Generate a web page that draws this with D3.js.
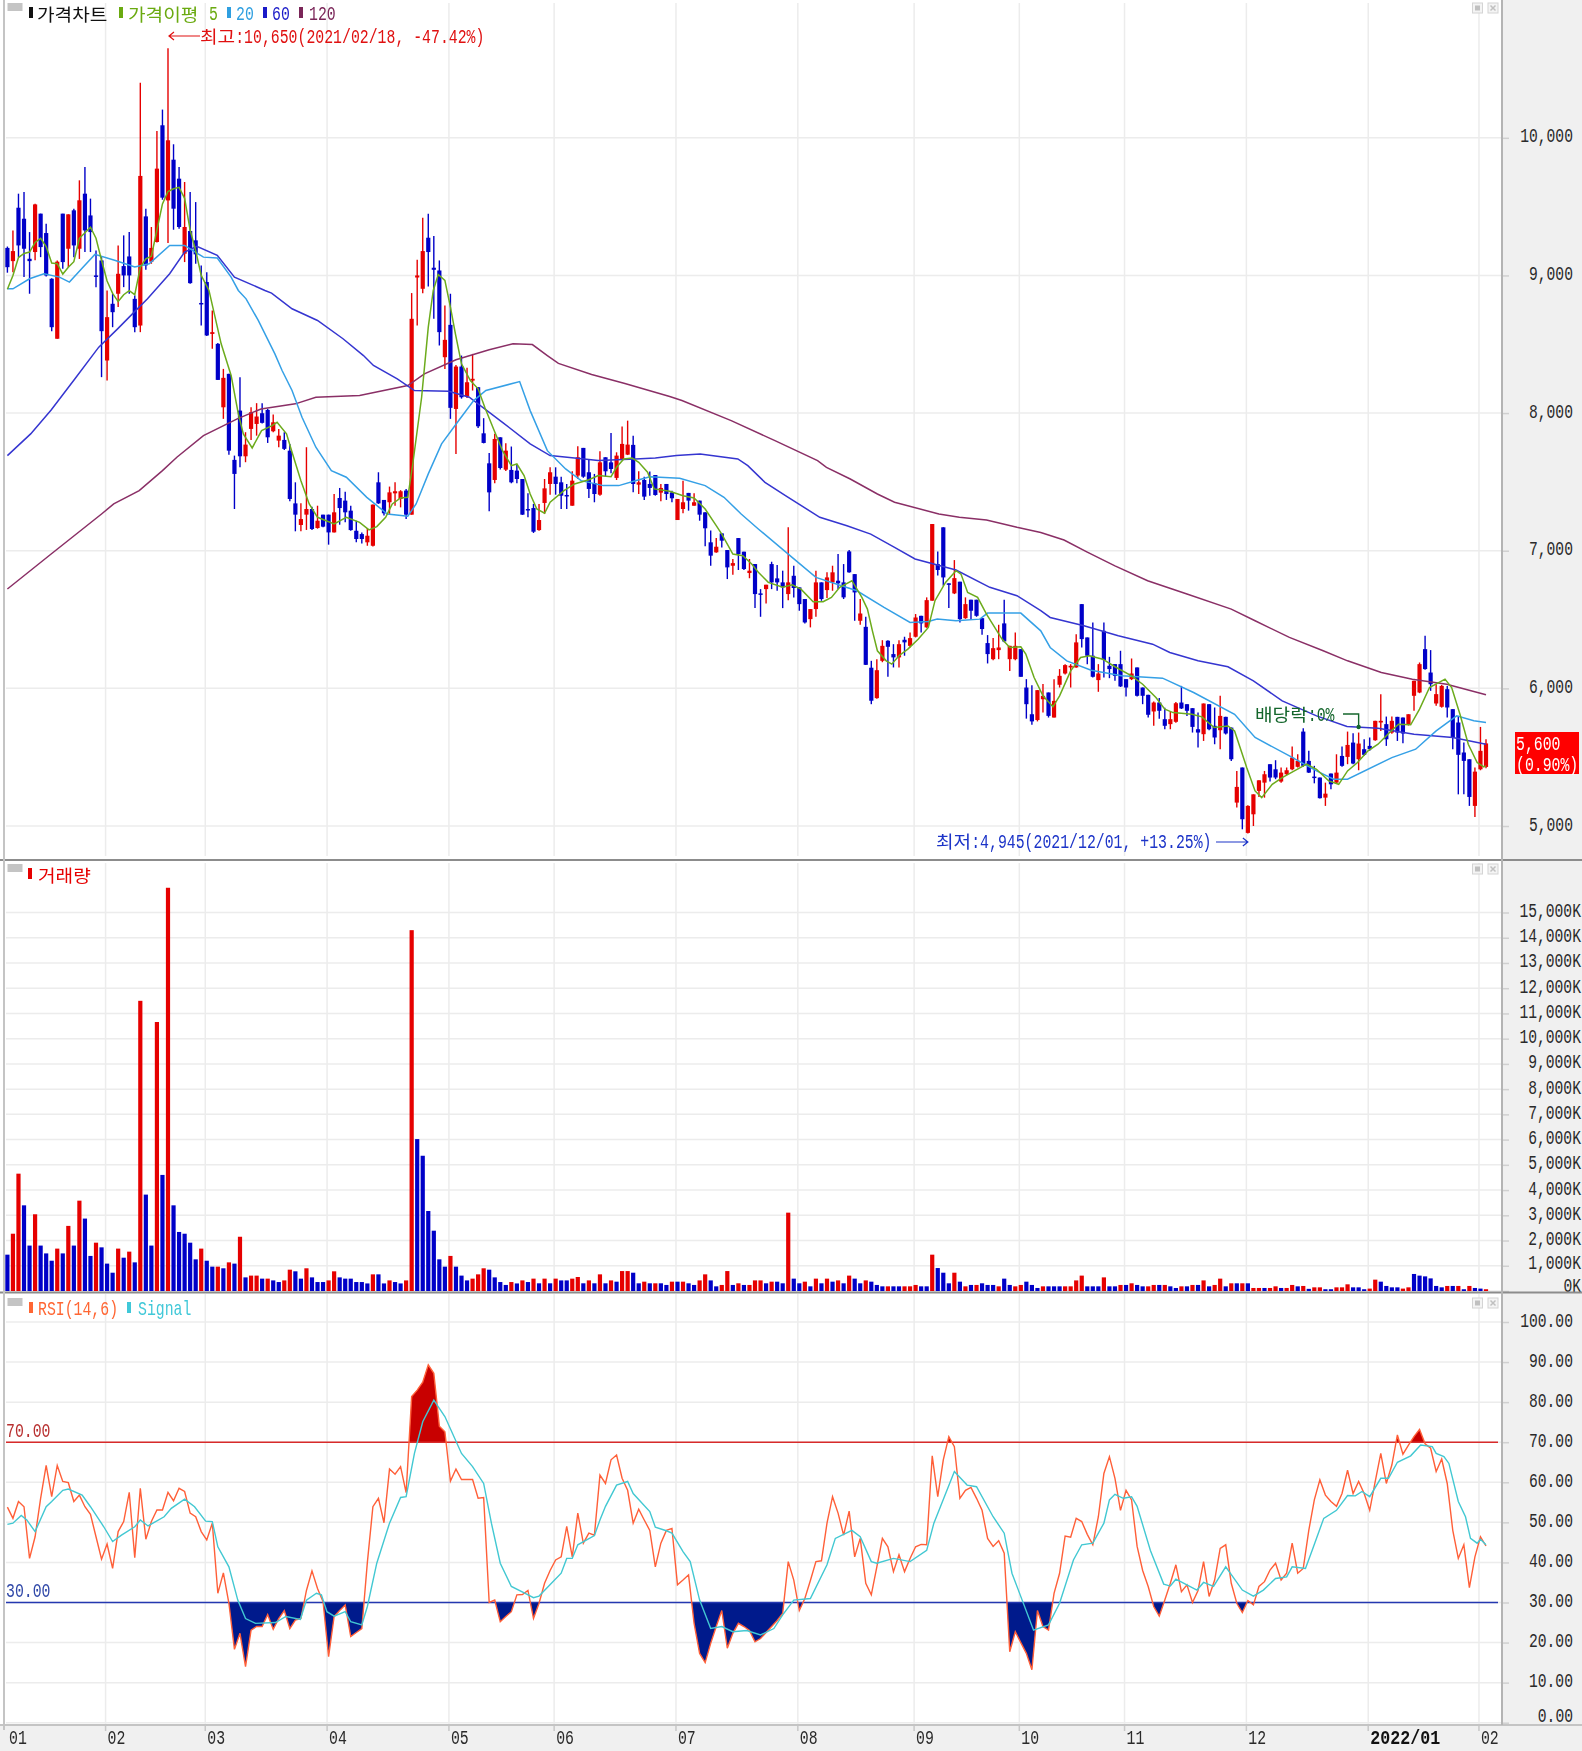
<!DOCTYPE html>
<html>
<head>
<meta charset="utf-8">
<script src="https://cdn.jsdelivr.net/npm/d3@7"></script>
<style>
  html, body { margin: 0; padding: 0; background: #fff; }
  svg { display: block; filter: blur(0.35px); }
  text { white-space: pre; }
</style>
</head>
<body>
<svg id="chart" width="1582" height="1751"></svg>
<script>
// colors
const RED = '#e60000';
const BLUE = '#0000c8';
const GRID = '#ececec';
const PANEL = '#f0f0f0';
const TEXT = '#2a2a2a';

// month labels and the bar each month starts on
const monthLabels = ['01', '02', '03', '04', '05', '06', '07', '08', '09', '10', '11', '12', '2022/01', '02'];
const monthBars = [0, 18, 36, 58, 80, 99, 121, 143, 164, 183, 202, 224, 246, 266];

// tick values
const priceTicks = [5000, 6000, 7000, 8000, 9000, 10000];
const volumeTicks = [0, 1000, 2000, 3000, 4000, 5000, 6000, 7000, 8000, 9000, 10000, 11000, 12000, 13000, 14000, 15000];
const rsiTicks = [0, 10, 20, 30, 40, 50, 60, 70, 80, 90, 100];

// daily candles
const opens = [
  9200,9104,9492,9412,9121,9170,9449,9308,8976,8540,
  9449,9194,9473,9194,9594,9436,9000,9109,8382,8794,
  8867,9068,9138,8830,8636,9429,9100,9243,10091,9545,
  9841,9703,9158,9323,9255,8800,8952,8575,8503,8042,
  8285,7660,8018,7686,7885,7921,7999,8023,7868,7800,
  7805,7727,7344,7187,7262,7303,7165,7262,7262,7133,
  7383,7364,7291,7145,7121,7061,7036,7497,7369,7352,
  7417,7376,7437,7262,8985,8903,9274,9056,9036,8406,
  8641,8030,8338,8120,8236,8188,7853,7635,7514,7824,
  7589,7587,7582,7521,7303,7310,7150,7347,7485,7538,
  7497,7405,7327,7546,7747,7570,7492,7407,7679,7642,
  7529,7667,7698,7769,7480,7514,7485,7550,7422,7485,
  7424,7223,7303,7420,7327,7364,7279,7061,6988,7126,
  7005,6891,7092,6993,6838,6903,6690,6721,6903,6799,
  6770,6685,6818,6734,6649,6503,6576,6770,6714,6770,
  6782,6770,6995,6830,6491,6447,6150,5929,6200,6346,
  6249,6225,6353,6309,6375,6527,6443,6637,6903,7170,
  6763,6690,6775,6510,6644,6644,6510,6329,6212,6278,
  6472,6212,6212,6285,6006,5812,5770,5921,5970,5788,
  6026,6108,6152,6152,6612,6370,6237,6060,6418,6164,
  6176,6176,6067,6067,6152,6006,5953,5832,5897,5776,
  5740,5757,5897,5885,5856,5703,5667,5885,5728,5696,
  5793,5715,5170,5425,4950,5085,5255,5315,5449,5412,
  5323,5376,5412,5430,5686,5473,5359,5352,5206,5381,
  5315,5509,5502,5606,5485,5558,5582,5623,5752,5740,
  5679,5793,5788,5735,5946,5970,6285,6115,5890,5866,
  5994,5849,5752,5534,5485,5146,5412,5429
];
const highs = [
  9210,9327,9594,9606,9315,9520,9449,9376,8980,9109,
  9449,9444,9485,9691,9788,9558,9182,9133,8890,8867,
  9218,9291,9315,8855,10400,9485,9352,10050,10205,10650,
  9953,9788,9679,9606,9533,9073,9024,8746,8510,8321,
  8285,7691,8261,7861,8042,8072,8072,8030,7989,7885,
  7861,7776,7497,7344,7752,7320,7327,7262,7262,7412,
  7456,7429,7327,7218,7133,7165,7335,7570,7369,7466,
  7497,7440,7449,8872,9114,9419,9449,9286,9109,8782,
  8867,8350,8418,8329,8430,8188,7963,7710,7849,7824,
  7781,7757,7630,7521,7417,7340,7340,7521,7606,7606,
  7538,7485,7577,7759,7747,7660,7558,7722,7679,7856,
  7715,7902,7945,7836,7577,7538,7575,7550,7485,7485,
  7436,7376,7509,7420,7417,7364,7279,7146,7092,7126,
  7005,6940,7092,6993,6940,6903,6721,6753,6920,6896,
  6855,7170,6891,6734,6649,6576,6855,6770,6843,6891,
  6976,6903,7005,6830,6649,6520,6200,6212,6350,6350,
  6321,6350,6375,6406,6540,6527,6661,7194,6995,7170,
  6763,6932,6775,6661,6644,6644,6510,6387,6365,6462,
  6644,6309,6406,6285,6067,6023,5987,6031,5970,6067,
  6140,6175,6176,6394,6612,6370,6479,6176,6479,6229,
  6176,6273,6067,6217,6152,6006,5953,5905,5930,5860,
  5830,5900,6018,5885,5856,5825,5890,5885,5861,5946,
  5793,5715,5400,5425,5150,5230,5332,5400,5449,5478,
  5425,5425,5577,5521,5710,5546,5437,5352,5315,5381,
  5521,5577,5686,5674,5679,5630,5643,5764,5958,5795,
  5795,5793,5788,5812,6055,6188,6382,6278,6030,6025,
  6018,5849,5800,5606,5485,5425,5720,5630
];
const lows = [
  9020,9024,9133,8988,8867,9110,9133,8993,8595,8540,
  9049,9060,9133,9120,9170,9170,8915,8261,8236,8624,
  8770,8915,8867,8588,8588,9041,9085,9240,9550,9235,
  9332,9340,9097,8940,9085,8636,8560,8467,8241,7958,
  7698,7303,7606,7643,7805,7836,7925,7783,7860,7752,
  7732,7359,7141,7141,7151,7150,7160,7170,7044,7133,
  7189,7206,7145,7061,7053,7036,7030,7340,7255,7267,
  7327,7315,7230,7262,8636,8870,8920,8685,8491,8321,
  7958,7703,8105,8110,8164,7892,7780,7286,7490,7590,
  7580,7490,7490,7260,7243,7129,7145,7267,7407,7407,
  7303,7303,7327,7521,7530,7383,7352,7400,7538,7563,
  7514,7660,7695,7424,7412,7369,7400,7400,7359,7369,
  7352,7223,7272,7291,7327,7218,7032,6891,6985,7024,
  6794,6826,6860,6860,6800,6583,6520,6617,6721,6709,
  6583,6641,6661,6564,6472,6443,6520,6636,6656,6709,
  6721,6649,6840,6491,6462,6170,5885,5925,6190,6084,
  6152,6152,6237,6297,6370,6406,6440,6637,6820,6746,
  6583,6685,6479,6505,6496,6520,6389,6181,6205,6212,
  6335,6127,6205,6084,5780,5735,5760,5825,5788,5788,
  6006,6100,6006,6150,6297,6176,6079,5975,6079,6074,
  6055,6010,5941,6060,5940,5885,5788,5728,5780,5703,
  5703,5750,5850,5800,5679,5570,5618,5695,5594,5558,
  5665,5473,5134,4976,4945,5000,5211,5206,5323,5340,
  5315,5370,5405,5425,5430,5385,5310,5200,5146,5267,
  5310,5430,5449,5449,5405,5510,5546,5620,5690,5582,
  5670,5618,5602,5730,5837,5965,6135,5982,5873,5860,
  5788,5558,5230,5230,5146,5066,5405,5420
];
const closes = [
  9060,9177,9218,9194,9104,9516,9206,9000,8624,9100,
  9097,9444,9218,9546,9327,9315,8990,8595,8697,8733,
  9012,9000,9000,8624,9723,9073,9200,9776,9565,9982,
  9485,9352,9352,8944,9153,8790,8564,8588,8241,8256,
  7727,7558,7686,7771,8006,7975,7929,7824,7933,7836,
  7740,7376,7262,7230,7303,7158,7218,7175,7133,7279,
  7310,7279,7150,7085,7085,7109,7335,7344,7272,7424,
  7432,7432,7262,8685,9000,9177,9170,9041,8588,8532,
  8038,8338,8115,8224,8249,7904,7783,7424,7812,7601,
  7727,7497,7521,7262,7295,7138,7223,7453,7570,7485,
  7400,7400,7509,7679,7538,7449,7412,7642,7577,7594,
  7691,7776,7771,7485,7497,7393,7456,7405,7456,7412,
  7381,7376,7352,7364,7352,7262,7163,6964,7029,7073,
  6879,6910,6976,6867,6855,6685,6686,6753,6770,6770,
  6734,6770,6729,6612,6479,6576,6770,6649,6806,6843,
  6763,6661,6843,6697,6544,6171,5910,6132,6309,6302,
  6225,6321,6334,6365,6515,6472,6641,7194,6860,6806,
  6758,6801,6503,6612,6564,6527,6431,6249,6292,6297,
  6341,6309,6309,6084,5885,5760,5987,5946,5800,5909,
  6091,6169,6164,6334,6358,6237,6084,6108,6205,6140,
  6091,6014,6006,6108,5946,5946,5808,5897,5837,5728,
  5776,5892,5854,5837,5720,5679,5890,5703,5643,5800,
  5672,5485,5284,5049,5146,5230,5332,5376,5352,5352,
  5388,5405,5497,5473,5437,5388,5352,5202,5235,5303,
  5388,5437,5589,5454,5599,5517,5558,5764,5764,5630,
  5764,5679,5672,5812,6055,6176,6140,6030,5958,6018,
  5861,5643,5517,5473,5211,5395,5546,5600
];

// volume in thousands of shares, with the bar colour (r/b) read separately
const volumes = [
  1440,2270,4650,3395,1800,3040,1800,1490,1200,1680,
  1490,2580,1800,3580,2870,1390,1915,1730,1085,725,
  1680,1320,1560,1135,11500,3820,1800,10660,4600,15980,
  3395,2340,2270,1915,1255,1680,1200,965,965,900,
  1135,1085,2150,540,610,610,490,490,420,355,
  420,845,780,490,900,540,355,355,420,780,
  540,490,490,355,355,300,660,660,300,420,
  355,300,420,14300,6020,5360,3170,2390,1255,965,
  1390,965,610,420,490,660,900,845,540,355,
  240,355,300,420,355,490,305,490,305,490,
  420,420,490,555,305,420,305,660,305,420,
  370,790,790,725,305,370,305,305,305,240,
  370,370,370,305,240,420,660,420,185,240,
  790,240,305,240,240,420,420,305,370,370,
  305,3105,490,305,370,185,490,305,490,370,
  420,305,610,490,305,420,370,240,185,185,
  185,185,185,185,240,185,185,1440,910,725,
  305,725,370,185,240,240,305,240,240,185,
  490,240,185,240,370,240,120,185,185,185,
  185,185,185,420,610,185,185,185,540,185,
  185,240,240,305,240,185,185,240,240,240,
  185,120,185,185,240,240,420,185,240,490,
  185,305,305,305,305,120,120,120,120,185,
  120,120,240,185,200,85,145,145,70,70,
  145,145,265,145,145,70,95,450,370,200,
  145,145,95,145,675,610,580,500,200,145,
  200,200,200,70,200,120,95,70
];
const volumeColors =
  'brrbbrbbbr' + 'brbrbbrbbb' + 'rbrbrbbrbr' + 'bbbbbrbbrb' +
  'rbrbrrbrbb' + 'rrbbrbbbrr' + 'bbbbbbrbbr' + 'bbrrbbbbbb' +
  'rbbbrrrbbb' + 'brbrbrbrbr' + 'bbrrbrbrbr' + 'brrbbrbrbb' +
  'rbrbbrrbbr' + 'rbrbrrrbrb' + 'brbbrbrbrb' + 'rbrbbrbbbr' +
  'bbrrrbbrbb' + 'brbrbrbbbr' + 'bbrrbbbrbb' + 'brrrrbbbrb' +
  'brbrbbrrbr' + 'bbrbrbrbrr' + 'brbrbrrbrr' + 'brrbrbrrbb' +
  'rrrbbbrrbb' + 'bbrrbbbbbb' + 'rbrbrbbr';

// RSI(14,6), one value per bar
const rsi = [
  53.8,51,55.2,53.9,41,46.4,56,64.2,56.4,64.2,
  60.2,59.9,55.2,56.8,53.9,52,46.4,40.8,44.6,38.5,
  47.7,50.2,57.5,41.2,58.5,45.8,50.2,53.1,53.1,57.5,
  55.4,58.5,57.7,52.3,51.4,47.7,45.6,49.8,32.3,37.4,
  29.8,18.3,22.3,14,23.1,24,24,27,23.3,26,
  28,23.5,25.6,26,33,37.9,33.5,30.2,16.5,26.5,
  28,29.4,21.5,22.5,23.5,40,53.9,56,49.9,63.3,
  62,63.9,57.4,81.4,83,85,89.3,87.2,74,72.6,
  60.3,63.3,60.7,60.7,60.7,56,56.2,30,30.6,25.2,
  26.5,27.7,31.9,32,33,26,29.8,34.8,38,40.6,
  41.4,49,41.4,52.3,44.8,47.3,46.8,61.8,59.7,65.6,
  66.8,61,58,49.8,53.3,50.6,48,38.9,44.8,48,
  48.5,34.4,35.6,36.9,24.8,17.3,15,19.8,24,28,
  18.6,22.3,24.8,24,23,20.2,21,22.5,24,25.5,
  27.3,40.2,35.6,28,31,35.5,40.2,40.4,49.8,56.4,
  52.3,46.8,52.8,41.4,46,34.8,31.9,38.9,46,43.9,
  37.7,41.9,37.7,41,43.9,44.5,44.4,66.6,56.4,65.6,
  71.4,68.9,56,58,58.7,56,53,46,44,45.4,
  42.3,17.7,22.7,20,17.3,13.2,28,24,23.1,32.3,
  37.3,46.6,46.3,51,50.2,47,44.4,51.4,62.2,66.4,
  61,53,58,55.6,44,38,34,29,26.6,30.6,
  34.8,39.4,32.7,34.4,30,33,40.2,31.5,35.6,43.5,
  44.4,34.8,29.8,27.5,30.5,29.4,34,35.2,38.1,39.8,
  35.6,37.3,44.8,37.3,38.5,48,55.6,60.6,56.8,55.2,
  54,57.2,63,57.2,60.2,57.2,53,60.2,67.2,59.7,
  64.3,71.8,67,69.3,71.4,73.2,69.6,68.5,62.7,65.8,
  59.7,48,41,44.4,33.7,41.4,46.4,44.1
];

// moving averages and the signal line, read as [bar, value] points
const ma5 = [[0,8900],[1,9000],[2,9130],[3,9160],[4,9170],[5,9240],[6,9270],[7,9210],[8,9090],[9,9085],[10,9010],[11,9060],[12,9100],[13,9270],[14,9310],[15,9350],[16,9270],[17,9110],[18,8960],[19,8870],[20,8810],[21,8860],[22,8890],[23,8860],[24,9060],[25,9120],[26,9140],[27,9330],[28,9520],[29,9610],[30,9630],[31,9640],[32,9560],[33,9330],[34,9180],[35,9000],[36.4,8891],[38.6,8503],[40.4,8273],[41.7,7994],[42.6,7849],[44.2,7747],[45.9,7873],[47.8,7909],[48.7,7933],[50.4,7849],[51.5,7703],[53,7509],[54.5,7340],[56,7243],[59,7194],[61.2,7243],[63.6,7206],[65.3,7151],[66.7,7175],[68.3,7243],[69.5,7340],[71,7383],[72.3,7388],[73.2,7630],[74.8,8115],[76,8624],[76.9,8891],[77.8,9007],[79,8964],[80,8770],[80.9,8576],[82,8358],[83.6,8236],[85,8176],[86.2,8042],[87.9,7873],[89.4,7727],[91,7618],[92,7630],[93.3,7546],[94.4,7412],[95.6,7303],[97,7272],[98,7352],[100.5,7437],[102.4,7485],[105,7516],[106.7,7546],[109,7538],[110,7606],[111.3,7667],[112.8,7674],[114,7642],[115.6,7570],[116.8,7449],[119.6,7432],[122,7400],[124,7383],[126,7303],[128,7182],[129,7121],[131,6976],[132.8,6964],[134.4,6903],[135.6,6843],[137.4,6770],[140,6734],[141.7,6753],[143.3,6721],[145.5,6629],[147.3,6629],[148.8,6661],[150.3,6734],[152.5,6782],[154.3,6661],[155.3,6576],[156.2,6418],[157.1,6273],[158.7,6200],[159.7,6176],[161,6237],[162.6,6285],[164.5,6358],[166.3,6443],[167.5,6637],[169.4,6770],[171.3,6855],[172.2,6830],[173.4,6697],[175.2,6661],[176.8,6540],[179.6,6358],[181,6297],[183,6302],[183.9,6249],[185.4,6079],[187,5946],[188.8,5866],[190,5946],[192,6127],[193.8,6224],[195.4,6237],[197.8,6212],[200,6157],[203,6091],[205,6030],[207.4,5934],[209,5849],[210.5,5824],[213.9,5812],[215.7,5793],[217.9,5715],[220.4,5727],[221.6,5691],[223.8,5424],[225.3,5255],[226.5,5206],[228.4,5303],[230.2,5352],[232.4,5400],[234.6,5449],[236.4,5412],[238.6,5328],[240.4,5303],[242,5400],[243.8,5461],[245.7,5546],[247.5,5594],[249.4,5672],[251.2,5740],[253.4,5735],[255,5849],[256.8,6006],[259.6,6067],[260.8,6006],[262.3,5812],[263.8,5594],[265.4,5461],[266.6,5429],[267,5437]];
const ma20 = [[0,8903],[1,8903],[4,8976],[6.6,9012],[9.4,8988],[11.2,8952],[13.4,9049],[15.8,9153],[19.5,9109],[23,9061],[25.6,9085],[29.3,9218],[32,9218],[35.4,9133],[37.9,9126],[40.4,8988],[41.7,8891],[43.1,8830],[45.3,8673],[48.3,8430],[49.6,8309],[51.4,8164],[53.2,7970],[55.7,7752],[58.5,7582],[61.2,7534],[64.9,7388],[68.6,7267],[72.3,7250],[73.8,7340],[76,7558],[78.4,7776],[81.5,7946],[84.2,8091],[86.4,8164],[92.5,8229],[94.4,8018],[97.5,7727],[100.8,7594],[103.6,7509],[107.6,7473],[110.4,7473],[113.4,7509],[116,7538],[121.4,7526],[126,7473],[129.4,7388],[132.5,7267],[135.6,7158],[141.7,6952],[146,6806],[153.4,6709],[158.3,6588],[163,6479],[166.3,6486],[167.9,6503],[171.3,6491],[175.6,6503],[177,6547],[183,6547],[186.6,6418],[188.3,6297],[191.3,6200],[195.7,6132],[201.2,6091],[208.6,6074],[214.2,5970],[221.6,5812],[225.3,5643],[231.5,5509],[236.4,5400],[239.5,5340],[242,5340],[250,5497],[254.3,5558],[258,5691],[261.7,5800],[264.8,5764],[267,5752]];
const ma60 = [[0,7691],[4.2,7849],[7.9,8023],[12.2,8249],[16.5,8479],[19.9,8612],[23.2,8746],[25.3,8830],[29.3,9012],[32,9170],[34.2,9211],[37.9,9146],[41,8988],[46.5,8891],[47.7,8872],[51.4,8758],[56,8673],[60.6,8540],[64.3,8418],[66.1,8346],[70.4,8249],[73.5,8164],[79.7,8159],[83.4,8115],[89.4,7933],[94.4,7776],[98,7691],[102.4,7674],[106.7,7655],[113.4,7667],[117,7674],[120.8,7691],[125.1,7703],[131.9,7667],[133.7,7618],[136.8,7497],[140.5,7400],[146.7,7243],[151.6,7182],[155.9,7121],[160.2,7024],[163.9,6940],[171.3,6860],[177.4,6734],[182.3,6673],[186.6,6564],[188.3,6515],[194.4,6455],[200.6,6382],[206.8,6321],[209.9,6261],[215,6200],[220.4,6157],[225,6055],[230.2,5909],[236.4,5800],[241.9,5723],[247.5,5711],[254,5667],[261,5643],[267,5594]];
const ma120 = [[0,6722],[7.9,6976],[17,7267],[19.2,7340],[23.8,7437],[28,7582],[30.6,7679],[35.4,7836],[41.5,7958],[45.8,8030],[52,8067],[55.7,8115],[63.6,8127],[72.3,8200],[75.3,8285],[81,8387],[87,8460],[91.3,8503],[94.8,8498],[97.5,8418],[99.5,8361],[105.5,8280],[111.5,8215],[119.6,8120],[121.8,8091],[130.7,7945],[138.6,7800],[146.3,7655],[147.9,7606],[152.2,7521],[157.1,7412],[160.2,7352],[168.2,7267],[171.9,7243],[176.8,7223],[182.3,7170],[186.6,7133],[190.8,7078],[195,6990],[200,6890],[205.9,6782],[213,6685],[221,6576],[225.3,6491],[231.5,6370],[237.6,6273],[242,6200],[248.1,6115],[253.7,6067],[259.9,6030],[267,5953]];
const signal = [[0,49.5],[1,49.8],[2.5,51.7],[3.5,50.6],[5,47.7],[7,53.9],[8,55.2],[10,58],[11,58.3],[13.5,56.8],[15,53.9],[17.4,48.9],[19,45.2],[20.6,46.8],[23,48.9],[24,50.6],[25.4,49.1],[28.3,51.4],[29.6,53.5],[32,55.8],[33.8,53.9],[35.8,50.3],[37,50.2],[38,43.9],[40,38.9],[41.6,30.6],[43,26],[44.8,24.8],[48.4,25],[50.3,26.5],[52.9,25.8],[54,30.6],[55.8,32.3],[56.7,31.9],[57.7,27.7],[59,26.6],[61,27.7],[62,25.2],[64,24.4],[65,29],[66.7,39.8],[69,49.8],[71,56.2],[72,56.4],[73.5,67.2],[75,75.1],[77,80.5],[79,76.4],[82,67.2],[84,63.9],[86,59.7],[87.4,49.8],[89,39.8],[91,34],[93.5,32.3],[95,31.2],[96,31.6],[100,37.3],[101,41],[102,41],[103,44.4],[106,46.7],[107,50.6],[108,54],[110,59.3],[112,60.2],[113,57.2],[116,52.7],[117,48.8],[119,47.9],[120,47.3],[122,42.7],[123.3,40.2],[125,30.6],[127,23.5],[129,24],[131,22.7],[133.5,23],[136,21.9],[138.4,23.5],[140,26.9],[142,30.6],[145,31],[148,39.4],[149.5,46],[152.5,48],[154,46.4],[156,40.2],[157,39.8],[160,41],[163,40.2],[166,43],[167.3,49.8],[171,62.7],[173.3,59.3],[175,58.9],[178,51.4],[180,47.3],[181.4,37.3],[185.3,23.1],[188,24.4],[190,29.8],[192.5,40.6],[194,44.4],[196,44.8],[198,49.8],[199,55.6],[200,57],[201.5,56],[203,56.4],[204,54],[206.4,43],[208.8,34.6],[210,34.1],[211,35.8],[214.8,33.1],[216,35],[217.8,34],[220,38.9],[223,33.1],[225,31.6],[226.8,33.1],[229,36],[231,36.4],[232,38.9],[234.4,38.5],[235.6,43],[237.7,51],[240,53],[242,56.7],[243.4,56.6],[244.6,57.7],[246,56.4],[248,61],[249.4,61],[251,65],[253.4,66.6],[255.2,69.3],[257.3,68.9],[258,67.2],[259.4,66.4],[260.3,64.7],[262,55.2],[263.3,51.4],[264.2,46],[265.4,44.8],[266,45.8],[267,44.4]];

// scales
const x = d3.scaleLinear().domain([0, 267]).range([7.4, 1486]);
const yPrice = d3.scaleLinear().domain([5000, 10000]).range([826, 137.8]);
const yVolume = d3.scaleLinear().domain([0, 15000]).range([1291, 912.5]);
const yRsi = d3.scaleLinear().domain([0, 100]).range([1722.7, 1322]);

const svg = d3.select('#chart');
const plotLeft = 6;
const plotRight = 1502;
const MONO = 20; // font size of the latin labels, squeezed to the source's narrow digits

// background panels down the right side and along the bottom
svg.append('rect').attr('x', plotRight).attr('y', 0).attr('width', 80).attr('height', 1751).attr('fill', PANEL);
svg.append('rect').attr('x', 0).attr('y', 1725).attr('width', 1582).attr('height', 26).attr('fill', PANEL);

/**
 * draws the gridlines and the value axis of one pane
 */
function drawPane(y, ticks, format, top, bottom, right, labelY) {
  const g = svg.append('g');
  g.selectAll('.v').data(monthBars.slice(1)).join('line')
    .attr('x1', i => x(i) - 1.5).attr('x2', i => x(i) - 1.5)
    .attr('y1', top).attr('y2', bottom)
    .attr('stroke', GRID).attr('stroke-width', 1.5);

  g.selectAll('.h').data(ticks).join('line')
    .attr('x1', plotLeft).attr('x2', plotRight)
    .attr('y1', y).attr('y2', y)
    .attr('stroke', GRID).attr('stroke-width', 1.5);

  const axis = g.append('g').attr('transform', `translate(${plotRight},0)`)
    .call(d3.axisRight(y).tickValues(ticks).tickSize(7).tickFormat(format));
  axis.select('.domain').remove();
  axis.selectAll('.tick line').attr('stroke', '#d0d0d0').attr('stroke-width', 1.5);
  axis.selectAll('.tick text')
    .attr('x', 0)
    .attr('dy', null)
    .attr('y', 0)
    .attr('text-anchor', 'start')
    .attr('fill', TEXT)
    .attr('font-family', 'Liberation Mono')
    .attr('font-size', MONO)
    .attr('transform', function (d) {
      const left = right - plotRight - this.textContent.length * 8.8;
      return `translate(${left},${labelY(d)}) scale(${8.8 / (0.6 * MONO)},1)`;
    });
}

drawPane(yPrice, priceTicks, d3.format(','), 3, 856, 1573, () => 4);
drawPane(yVolume, volumeTicks, d => d3.format(',')(d) + 'K', 863, 1290, 1581, d => (d === 0 ? 0.5 : d === 1000 ? 2.5 : 4));
drawPane(yRsi, rsiTicks, d3.format('.2f'), 1294, 1725, 1573, d => (d === 0 ? -1.7 : 4));

// volume bars
svg.append('g').selectAll('rect').data(volumes).join('rect')
  .attr('x', (d, i) => x(i) - 2.1)
  .attr('width', 4.2)
  .attr('y', d => yVolume(d))
  .attr('height', d => yVolume(0) - yVolume(d))
  .attr('fill', (d, i) => volumeColors[i] === 'r' ? RED : BLUE);

// candles
const candle = svg.append('g').selectAll('g').data(opens).join('g')
  .attr('fill', (d, i) => closes[i] >= opens[i] ? RED : BLUE)
  .attr('stroke', (d, i) => closes[i] >= opens[i] ? RED : BLUE);

candle.append('line')
  .attr('x1', (d, i) => x(i)).attr('x2', (d, i) => x(i))
  .attr('y1', (d, i) => yPrice(highs[i])).attr('y2', (d, i) => yPrice(lows[i]))
  .attr('stroke-width', 1.4);

candle.append('rect')
  .attr('stroke', 'none')
  .attr('x', (d, i) => x(i) - 2.1)
  .attr('width', 4.2)
  .attr('y', (d, i) => yPrice(Math.max(opens[i], closes[i])))
  .attr('height', (d, i) => Math.max(1.5, Math.abs(yPrice(opens[i]) - yPrice(closes[i]))));

// moving average lines
const priceLine = d3.line().x(d => x(d[0])).y(d => yPrice(d[1]));
const maSeries = [[ma120, '#8a2f66'], [ma60, '#3535d0'], [ma20, '#35a0e6'], [ma5, '#6cab1c']];
maSeries.forEach(([points, color]) => {
  svg.append('path').attr('d', priceLine(points))
    .attr('fill', 'none').attr('stroke', color).attr('stroke-width', 1.5);
});

// RSI fills beyond the 70 and 30 levels
const defs = svg.append('defs');
defs.append('clipPath').attr('id', 'above70').append('rect')
  .attr('x', plotLeft).attr('width', plotRight - plotLeft)
  .attr('y', yRsi(100)).attr('height', yRsi(70) - yRsi(100));
defs.append('clipPath').attr('id', 'below30').append('rect')
  .attr('x', plotLeft).attr('width', plotRight - plotLeft)
  .attr('y', yRsi(30)).attr('height', yRsi(0) - yRsi(30));

const rsiArea = level => d3.area().x((d, i) => x(i)).y0(yRsi(level)).y1(d => yRsi(d));
svg.append('path').datum(rsi).attr('d', rsiArea(70)).attr('fill', '#c80000').attr('clip-path', 'url(#above70)');
svg.append('path').datum(rsi).attr('d', rsiArea(30)).attr('fill', '#001a8c').attr('clip-path', 'url(#below30)');

// 70 and 30 level lines
const levels = [[70, '#d82a2a'], [30, '#2438b0']];
levels.forEach(([level, color]) => {
  svg.append('line')
    .attr('x1', plotLeft).attr('x2', 1498)
    .attr('y1', yRsi(level)).attr('y2', yRsi(level))
    .attr('stroke', color).attr('stroke-width', 1.6);
});

svg.append('path').datum(rsi)
  .attr('d', d3.line().x((d, i) => x(i)).y(d => yRsi(d)))
  .attr('fill', 'none').attr('stroke', '#ff5f38').attr('stroke-width', 1.4);
svg.append('path')
  .attr('d', d3.line().x(d => x(d[0])).y(d => yRsi(d[1]))(signal))
  .attr('fill', 'none').attr('stroke', '#42c8d2').attr('stroke-width', 1.4);

/**
 * writes a label the way the source font sets it: hangul full width, the rest half width
 */
function label(str, left, baseline, color, bold) {
  const t = svg.append('text').attr('fill', color);
  if (!/[가-힣]/.test(str)) {
    // latin only, squeeze the whole text
    const advance = bold ? 10 : 8.9;
    return t.attr('transform', `translate(${left},${baseline}) scale(${advance / (0.6 * MONO)},1)`)
      .attr('font-family', 'Liberation Mono')
      .attr('font-size', MONO)
      .attr('font-weight', bold ? 'bold' : 'normal')
      .text(str);
  }
  t.attr('x', left).attr('y', baseline);
  str.match(/[가-힣]+|[^가-힣]+/g).forEach(run => {
    const hangul = /[가-힣]/.test(run);
    t.append('tspan')
      .attr('font-family', hangul ? 'Noto Sans CJK KR' : 'Liberation Mono')
      .attr('font-size', hangul ? 17.5 : MONO)
      .attr('lengthAdjust', 'spacingAndGlyphs')
      .attr('textLength', run.length * (hangul ? 17.6 : 8.9))
      .text(run);
  });
  return t;
}

// month labels along the bottom
monthLabels.forEach((m, k) => {
  const gx = k === 0 ? 7 : x(monthBars[k]) - 1.5;
  label(m, gx + 2, 1744, m.length > 2 ? '#111' : TEXT, m.length > 2);
  if (k > 0) {
    svg.append('line').attr('x1', gx).attr('x2', gx).attr('y1', 1725).attr('y2', 1731)
      .attr('stroke', '#c8c8c8').attr('stroke-width', 1.5);
  }
});

// pane separators and frame
const separators = [[860, '#8c8c8c'], [1292.5, '#8c8c8c'], [1725, '#c4c4c4']];
separators.forEach(([yy, color]) => {
  svg.append('line').attr('x1', 0).attr('x2', 1582).attr('y1', yy).attr('y2', yy)
    .attr('stroke', color).attr('stroke-width', 2);
});
svg.append('line').attr('x1', plotRight).attr('x2', plotRight).attr('y1', 0).attr('y2', 1725)
  .attr('stroke', '#b4b4b4').attr('stroke-width', 2);
svg.append('line').attr('x1', 4).attr('x2', 4).attr('y1', 0).attr('y2', 1730)
  .attr('stroke', '#c4c4c4').attr('stroke-width', 2);

/**
 * the small grey tab, legend entries and window buttons of a pane
 */
function paneChrome(top, entries) {
  svg.append('rect').attr('x', 7.5).attr('y', top + 3).attr('width', 15).attr('height', 8).attr('fill', '#c4c4c4');
  entries.forEach(e => {
    if (e.mark !== undefined) {
      svg.append('rect').attr('x', e.mark).attr('y', top + 7).attr('width', 4).attr('height', 11).attr('fill', e.color);
    }
    label(e.text, e.x, top + (/[가-힣]/.test(e.text) ? 20.5 : 19.5), e.color);
  });
  [1472.5, 1488].forEach((bx, k) => {
    svg.append('rect').attr('x', bx).attr('y', top + 3).attr('width', 10).attr('height', 10)
      .attr('fill', '#f4f4f4').attr('stroke', '#d4d4d4').attr('stroke-width', 1);
    if (k === 0) {
      svg.append('rect').attr('x', bx + 2.5).attr('y', top + 5.5).attr('width', 5).attr('height', 5).attr('fill', '#c0c0c0');
    } else {
      svg.append('path').attr('d', `M${bx + 2.5},${top + 5.5}l5,5m0,-5l-5,5`).attr('stroke', '#c0c0c0').attr('stroke-width', 1.5);
    }
  });
}

paneChrome(0, [
  { text: '가격차트', x: 37, mark: 29, color: '#111111' },
  { text: '가격이평', x: 128, mark: 119, color: '#6aaa10' },
  { text: '5', x: 209, color: '#6aaa10' },
  { text: '20', x: 236, mark: 227, color: '#2f9fe0' },
  { text: '60', x: 272, mark: 263, color: '#1a1ac8' },
  { text: '120', x: 309, mark: 299, color: '#7a2558' }
]);
paneChrome(861, [{ text: '거래량', x: 38, mark: 28, color: '#e60000' }]);
paneChrome(1295, [
  { text: 'RSI(14,6)', x: 38, mark: 29, color: '#ff6633' },
  { text: 'Signal', x: 138, mark: 127, color: '#40c8d8' }
]);

// 70/30 labels
label('70.00', 6, 1437, '#b83030');
label('30.00', 6, 1597, '#3048a8');

// high, low and ex-dividend notes
const arrow = (x1, x2, yy, color) => {
  const dir = x2 > x1 ? -1 : 1;
  svg.append('path')
    .attr('d', `M${x1},${yy}L${x2},${yy}M${x2 + dir * 5},${yy - 4}L${x2},${yy}L${x2 + dir * 5},${yy + 4}`)
    .attr('fill', 'none').attr('stroke', color).attr('stroke-width', 1.2);
};
arrow(x(29) + 32, x(29) + 1, 36, '#e01010');
label('최고:10,650(2021/02/18, -47.42%)', 200, 43, '#e01010');
arrow(1216, x(224), 842, '#1c34c8');
label('최저:4,945(2021/12/01, +13.25%)', 936, 848, '#1c34c8');

label('배당락:0%', 1255, 721, '#14662c');
svg.append('path').attr('d', `M1343,714H${x(244)}V727`).attr('fill', 'none').attr('stroke', '#14662c').attr('stroke-width', 1.4);
svg.append('circle').attr('cx', x(244)).attr('cy', 727).attr('r', 2.2).attr('fill', '#14662c');

// current price badge
svg.append('rect').attr('x', 1515).attr('y', 732).attr('width', 64).attr('height', 42).attr('fill', '#ff0000');
label('5,600', 1516, 750, '#ffffff');
label('(0.90%)', 1516, 771, '#ffffff');
</script>
</body>
</html>
